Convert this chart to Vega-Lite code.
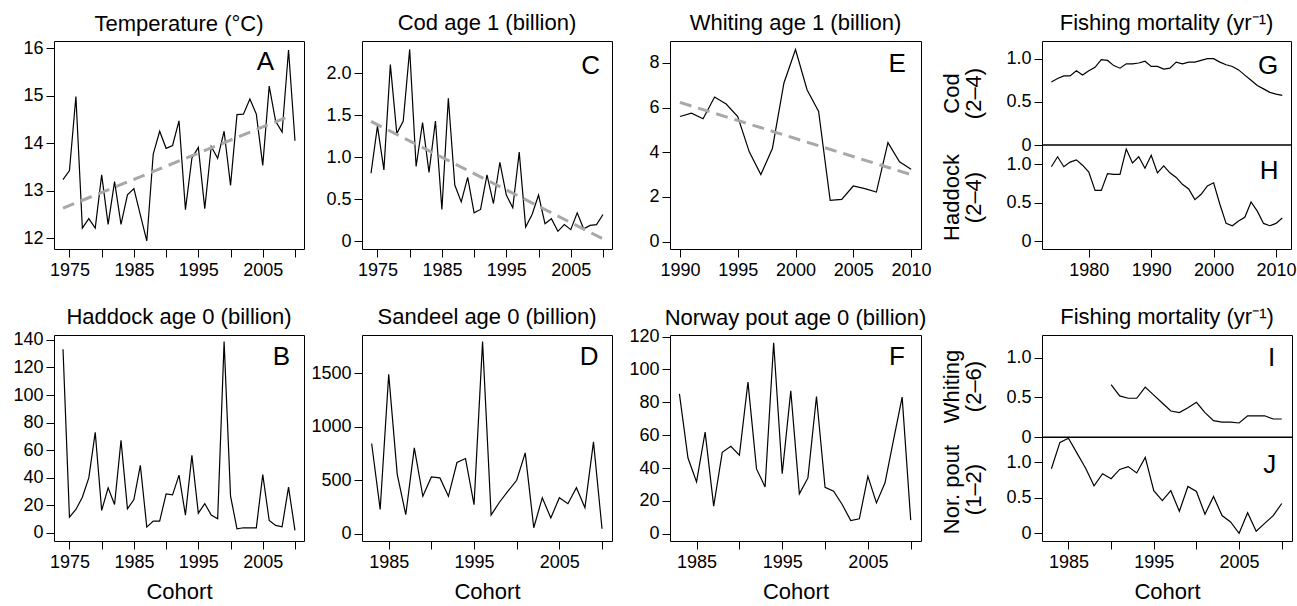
{
"$schema": "https://vega.github.io/schema/vega-lite/v6.json",
"autosize": {"type": "pad"},
"padding": {"left": 12, "top": 11, "right": 2, "bottom": 2},
"background": "white",
"datasets": {
"temp": [{"year":1974,"v":13.23},{"year":1975,"v":13.42},{"year":1976,"v":14.98},{"year":1977,"v":12.21},{"year":1978,"v":12.41},{"year":1979,"v":12.21},{"year":1980,"v":13.33},{"year":1981,"v":12.29},{"year":1982,"v":13.19},{"year":1983,"v":12.29},{"year":1984,"v":12.91},{"year":1985,"v":13.04},{"year":1986,"v":12.49},{"year":1987,"v":11.94},{"year":1988,"v":13.77},{"year":1989,"v":14.25},{"year":1990,"v":13.89},{"year":1991,"v":13.95},{"year":1992,"v":14.47},{"year":1993,"v":12.6},{"year":1994,"v":13.68},{"year":1995,"v":13.91},{"year":1996,"v":12.62},{"year":1997,"v":13.93},{"year":1998,"v":13.68},{"year":1999,"v":14.25},{"year":2000,"v":13.11},{"year":2001,"v":14.6},{"year":2002,"v":14.61},{"year":2003,"v":14.93},{"year":2004,"v":14.61},{"year":2005,"v":13.53},{"year":2006,"v":15.2},{"year":2007,"v":14.46},{"year":2008,"v":14.23},{"year":2009,"v":15.96},{"year":2010,"v":14.05}],
"tempTrend": [{"year":1974,"v":12.63},{"year":2009,"v":14.56}],
"cod": [{"year":1974,"v":0.81},{"year":1975,"v":1.37},{"year":1976,"v":0.85},{"year":1977,"v":2.10},{"year":1978,"v":1.28},{"year":1979,"v":1.43},{"year":1980,"v":2.28},{"year":1981,"v":0.89},{"year":1982,"v":1.41},{"year":1983,"v":0.82},{"year":1984,"v":1.43},{"year":1985,"v":0.38},{"year":1986,"v":1.70},{"year":1987,"v":0.67},{"year":1988,"v":0.47},{"year":1989,"v":0.76},{"year":1990,"v":0.34},{"year":1991,"v":0.38},{"year":1992,"v":0.79},{"year":1993,"v":0.45},{"year":1994,"v":0.94},{"year":1995,"v":0.55},{"year":1996,"v":0.40},{"year":1997,"v":1.06},{"year":1998,"v":0.17},{"year":1999,"v":0.32},{"year":2000,"v":0.55},{"year":2001,"v":0.21},{"year":2002,"v":0.27},{"year":2003,"v":0.12},{"year":2004,"v":0.20},{"year":2005,"v":0.14},{"year":2006,"v":0.34},{"year":2007,"v":0.15},{"year":2008,"v":0.19},{"year":2009,"v":0.20},{"year":2010,"v":0.32}],
"codTrend": [{"year":1974,"v":1.425},{"year":2010,"v":0.03}],
"whiting": [{"year":1990,"v":5.60},{"year":1991,"v":5.75},{"year":1992,"v":5.50},{"year":1993,"v":6.47},{"year":1994,"v":6.16},{"year":1995,"v":5.60},{"year":1996,"v":4.02},{"year":1997,"v":3.0},{"year":1998,"v":4.17},{"year":1999,"v":7.10},{"year":2000,"v":8.60},{"year":2001,"v":6.80},{"year":2002,"v":5.83},{"year":2003,"v":1.85},{"year":2004,"v":1.89},{"year":2005,"v":2.49},{"year":2006,"v":2.37},{"year":2007,"v":2.22},{"year":2008,"v":4.43},{"year":2009,"v":3.57},{"year":2010,"v":3.24}],
"whitingTrend": [{"year":1990,"v":6.23},{"year":2010,"v":3.0}],
"codF": [{"year":1974,"v":0.73},{"year":1975,"v":0.77},{"year":1976,"v":0.80},{"year":1977,"v":0.80},{"year":1978,"v":0.86},{"year":1979,"v":0.81},{"year":1980,"v":0.86},{"year":1981,"v":0.90},{"year":1982,"v":0.99},{"year":1983,"v":0.98},{"year":1984,"v":0.92},{"year":1985,"v":0.89},{"year":1986,"v":0.94},{"year":1987,"v":0.94},{"year":1988,"v":0.95},{"year":1989,"v":0.97},{"year":1990,"v":0.91},{"year":1991,"v":0.91},{"year":1992,"v":0.88},{"year":1993,"v":0.89},{"year":1994,"v":0.96},{"year":1995,"v":0.94},{"year":1996,"v":0.96},{"year":1997,"v":0.96},{"year":1998,"v":0.98},{"year":1999,"v":1.0},{"year":2000,"v":1.0},{"year":2001,"v":0.96},{"year":2002,"v":0.93},{"year":2003,"v":0.91},{"year":2004,"v":0.87},{"year":2005,"v":0.81},{"year":2006,"v":0.75},{"year":2007,"v":0.69},{"year":2008,"v":0.65},{"year":2009,"v":0.61},{"year":2010,"v":0.59},{"year":2011,"v":0.575}],
"hadF": [{"year":1974,"v":0.97},{"year":1975,"v":1.10},{"year":1976,"v":0.97},{"year":1977,"v":1.03},{"year":1978,"v":1.06},{"year":1979,"v":0.99},{"year":1980,"v":0.90},{"year":1981,"v":0.66},{"year":1982,"v":0.66},{"year":1983,"v":0.88},{"year":1984,"v":0.87},{"year":1985,"v":0.87},{"year":1986,"v":1.20},{"year":1987,"v":1.02},{"year":1988,"v":1.10},{"year":1989,"v":0.95},{"year":1990,"v":1.12},{"year":1991,"v":0.89},{"year":1992,"v":0.98},{"year":1993,"v":0.89},{"year":1994,"v":0.83},{"year":1995,"v":0.74},{"year":1996,"v":0.68},{"year":1997,"v":0.54},{"year":1998,"v":0.61},{"year":1999,"v":0.72},{"year":2000,"v":0.76},{"year":2001,"v":0.48},{"year":2002,"v":0.23},{"year":2003,"v":0.20},{"year":2004,"v":0.26},{"year":2005,"v":0.31},{"year":2006,"v":0.51},{"year":2007,"v":0.39},{"year":2008,"v":0.23},{"year":2009,"v":0.20},{"year":2010,"v":0.23},{"year":2011,"v":0.30}],
"haddock0": [{"year":1974,"v":133.2},{"year":1975,"v":11.3},{"year":1976,"v":16.9},{"year":1977,"v":25.8},{"year":1978,"v":39.8},{"year":1979,"v":72.9},{"year":1980,"v":16.2},{"year":1981,"v":32.6},{"year":1982,"v":20.5},{"year":1983,"v":67.1},{"year":1984,"v":17.4},{"year":1985,"v":24.1},{"year":1986,"v":49.0},{"year":1987,"v":4.1},{"year":1988,"v":8.4},{"year":1989,"v":8.4},{"year":1990,"v":28.2},{"year":1991,"v":27.5},{"year":1992,"v":41.8},{"year":1993,"v":12.8},{"year":1994,"v":56.2},{"year":1995,"v":14.2},{"year":1996,"v":21.2},{"year":1997,"v":12.8},{"year":1998,"v":10.1},{"year":1999,"v":138.8},{"year":2000,"v":26.6},{"year":2001,"v":2.9},{"year":2002,"v":3.6},{"year":2003,"v":3.6},{"year":2004,"v":3.6},{"year":2005,"v":42.2},{"year":2006,"v":8.9},{"year":2007,"v":5.3},{"year":2008,"v":4.3},{"year":2009,"v":33.1},{"year":2010,"v":1.7}],
"sandeel": [{"year":1983,"v":844},{"year":1984,"v":228},{"year":1985,"v":1491},{"year":1986,"v":556},{"year":1987,"v":178},{"year":1988,"v":803},{"year":1989,"v":350},{"year":1990,"v":531},{"year":1991,"v":522},{"year":1992,"v":350},{"year":1993,"v":666},{"year":1994,"v":703},{"year":1995,"v":272},{"year":1996,"v":1797},{"year":1997,"v":175},{"year":1998,"v":297},{"year":1999,"v":400},{"year":2000,"v":500},{"year":2001,"v":756},{"year":2002,"v":56},{"year":2003,"v":337},{"year":2004,"v":147},{"year":2005,"v":337},{"year":2006,"v":281},{"year":2007,"v":431},{"year":2008,"v":244},{"year":2009,"v":859},{"year":2010,"v":47}],
"pout": [{"year":1983,"v":85.2},{"year":1984,"v":46.1},{"year":1985,"v":31.6},{"year":1986,"v":61.9},{"year":1987,"v":16.8},{"year":1988,"v":49.6},{"year":1989,"v":53.2},{"year":1990,"v":47.8},{"year":1991,"v":92.3},{"year":1992,"v":39.5},{"year":1993,"v":28.5},{"year":1994,"v":116.3},{"year":1995,"v":36.6},{"year":1996,"v":87.0},{"year":1997,"v":24.3},{"year":1998,"v":34.0},{"year":1999,"v":83.6},{"year":2000,"v":28.3},{"year":2001,"v":25.9},{"year":2002,"v":17.8},{"year":2003,"v":8.1},{"year":2004,"v":9.1},{"year":2005,"v":35.0},{"year":2006,"v":18.8},{"year":2007,"v":31.0},{"year":2008,"v":57.3},{"year":2009,"v":83.2},{"year":2010,"v":8.3}],
"whitF": [{"year":1990,"v":0.66},{"year":1991,"v":0.52},{"year":1992,"v":0.49},{"year":1993,"v":0.49},{"year":1994,"v":0.63},{"year":1995,"v":0.53},{"year":1996,"v":0.43},{"year":1997,"v":0.33},{"year":1998,"v":0.31},{"year":1999,"v":0.37},{"year":2000,"v":0.44},{"year":2001,"v":0.31},{"year":2002,"v":0.21},{"year":2003,"v":0.19},{"year":2004,"v":0.19},{"year":2005,"v":0.18},{"year":2006,"v":0.27},{"year":2007,"v":0.27},{"year":2008,"v":0.27},{"year":2009,"v":0.23},{"year":2010,"v":0.23}],
"poutF": [{"year":1983,"v":0.91},{"year":1984,"v":1.28},{"year":1985,"v":1.34},{"year":1986,"v":1.13},{"year":1987,"v":0.92},{"year":1988,"v":0.67},{"year":1989,"v":0.84},{"year":1990,"v":0.77},{"year":1991,"v":0.90},{"year":1992,"v":0.94},{"year":1993,"v":0.85},{"year":1994,"v":1.07},{"year":1995,"v":0.60},{"year":1996,"v":0.46},{"year":1997,"v":0.60},{"year":1998,"v":0.31},{"year":1999,"v":0.66},{"year":2000,"v":0.59},{"year":2001,"v":0.27},{"year":2002,"v":0.52},{"year":2003,"v":0.25},{"year":2004,"v":0.16},{"year":2005,"v":0.0},{"year":2006,"v":0.29},{"year":2007,"v":0.03},{"year":2008,"v":0.14},{"year":2009,"v":0.25},{"year":2010,"v":0.42}]
},
"config": {
 "font": "Liberation Sans",
 "view": {"stroke": "black", "strokeWidth": 1},
 "axis": {"domain": false, "grid": false, "tickColor": "black", "tickSize": 8, "tickWidth": 1, "labelFont": "Liberation Sans", "labelFontSize": 18, "labelColor": "black", "labelPadding": 3, "titleFont": "Liberation Sans", "titleFontSize": 22, "titleFontWeight": "normal", "titleColor": "black", "labelOverlap": false, "labelFlush": false},
 "axisX": {"labelPadding": 4, "titlePadding": 10},
 "axisY": {"titlePadding": 20, "titleLineHeight": 22},
 "title": {"font": "Liberation Sans", "fontSize": 22, "fontWeight": "normal", "color": "black", "offset": 6},
 "line": {"color": "black", "strokeWidth": 1.2}
},
"columns": 5,
"spacing": {"row": 86, "column": 58},
"bounds": "flush",
"concat": [
   {"width": 250, "height": 208, "title": {"text": "Temperature (°C)", "offset": 3.5},
    "layer": [
     {"data": {"name": "temp"}, "mark": {"type": "line"},
      "encoding": {
       "x": {"field": "year", "type": "quantitative", "scale": {"domain": [1972.6, 2011.4], "nice": false, "zero": false}, "axis": {"title": null, "values": [1975,1980,1985,1990,1995,2000,2005,2010], "tickCount": 50, "format": "d", "labelOverlap": false, "labelExpr": "(datum.value - 1975) % 10 == 0 ? datum.label : ''"}},
       "y": {"field": "v", "type": "quantitative", "scale": {"domain": [11.77, 16.15], "nice": false, "zero": false}, "axis": {"title": null, "values": [12,13,14,15,16], "tickCount": 50, "format": "d", "labelOverlap": false}}}},
     {"data": {"name": "tempTrend"}, "mark": {"type": "line", "color": "#a8a8a8", "strokeWidth": 3, "strokeDash": [12, 7]},
      "encoding": {"x": {"field": "year", "type": "quantitative"}, "y": {"field": "v", "type": "quantitative"}}},
     {"data": {"values": [{"label": "A"}]}, "mark": {"type": "text", "fontSize": 26, "font": "Liberation Sans", "color": "black", "baseline": "middle", "align": "center"},
      "encoding": {"x": {"datum": 2005.4, "type": "quantitative"}, "y": {"datum": 15.7, "type": "quantitative"}, "text": {"field": "label"}}}
    ]},
   {"width": 250, "height": 208, "title": "Cod age 1 (billion)",
    "layer": [
     {"data": {"name": "cod"}, "mark": {"type": "line"},
      "encoding": {
       "x": {"field": "year", "type": "quantitative", "scale": {"domain": [1972.6, 2011.4], "nice": false, "zero": false}, "axis": {"title": null, "values": [1975,1980,1985,1990,1995,2000,2005,2010], "tickCount": 50, "format": "d", "labelOverlap": false, "labelExpr": "(datum.value - 1975) % 10 == 0 ? datum.label : ''"}},
       "y": {"field": "v", "type": "quantitative", "scale": {"domain": [-0.09, 2.38], "nice": false, "zero": false}, "axis": {"title": null, "values": [0,0.5,1,1.5,2], "tickCount": 50, "labelOverlap": false, "labelExpr": "datum.value == 0 ? '0' : format(datum.value, '.1f')"}}}},
     {"data": {"name": "codTrend"}, "mark": {"type": "line", "color": "#a8a8a8", "strokeWidth": 3, "strokeDash": [12, 7]},
      "encoding": {"x": {"field": "year", "type": "quantitative"}, "y": {"field": "v", "type": "quantitative"}}},
     {"data": {"values": [{"label": "C"}]}, "mark": {"type": "text", "fontSize": 26, "font": "Liberation Sans", "color": "black", "baseline": "middle", "align": "center"},
      "encoding": {"x": {"datum": 2008.1, "type": "quantitative"}, "y": {"datum": 2.08, "type": "quantitative"}, "text": {"field": "label"}}}
    ]},
   {"width": 251, "height": 208, "title": "Whiting age 1 (billion)",
    "layer": [
     {"data": {"name": "whiting"}, "mark": {"type": "line"},
      "encoding": {
       "x": {"field": "year", "type": "quantitative", "scale": {"domain": [1989.14, 2010.86], "nice": false, "zero": false}, "axis": {"title": null, "values": [1990,1995,2000,2005,2010], "tickCount": 50, "format": "d", "labelOverlap": false}},
       "y": {"field": "v", "type": "quantitative", "scale": {"domain": [-0.33, 8.98], "nice": false, "zero": false}, "axis": {"title": null, "values": [0,2,4,6,8], "tickCount": 50, "format": "d", "labelOverlap": false}}}},
     {"data": {"name": "whitingTrend"}, "mark": {"type": "line", "color": "#a8a8a8", "strokeWidth": 3, "strokeDash": [12, 7]},
      "encoding": {"x": {"field": "year", "type": "quantitative"}, "y": {"field": "v", "type": "quantitative"}}},
     {"data": {"values": [{"label": "E"}]}, "mark": {"type": "text", "fontSize": 26, "font": "Liberation Sans", "color": "black", "baseline": "middle", "align": "center"},
      "encoding": {"x": {"datum": 2008.8, "type": "quantitative"}, "y": {"datum": 7.93, "type": "quantitative"}, "text": {"field": "label"}}}
    ]},
   {"width": 5, "height": 10, "data": {"values": []}, "mark": "point", "view": {"stroke": null}},
   {"width": 249, "height": 208, "title": "Fishing mortality (yr⁻¹)",
    "layer": [
     {"layer": [
       {"data": {"name": "codF"}, "mark": {"type": "line"},
        "encoding": {
         "x": {"field": "year", "type": "quantitative", "scale": {"domain": [1972.5, 2012.4], "nice": false, "zero": false}, "axis": {"title": null, "values": [1980,1990,2000,2010], "tickCount": 50, "format": "d", "labelOverlap": false}},
         "y": {"field": "v", "type": "quantitative", "scale": {"domain": [-1.205, 1.205], "nice": false, "zero": false}, "axis": {"orient": "left", "title": ["Cod", "(2–4)"], "titleY": 52, "values": [0,0.5,1], "tickCount": 50, "labelOverlap": false, "labelExpr": "datum.value == 0 ? '0' : format(datum.value, '.1f')"}}}},
       {"data": {"values": [{"label": "G"}]}, "mark": {"type": "rule", "color": "black", "strokeWidth": 1.5},
        "encoding": {"y": {"datum": 0, "type": "quantitative"}}},
       {"data": {"values": [{"label": "G"}]}, "mark": {"type": "text", "fontSize": 26, "font": "Liberation Sans", "color": "black", "baseline": "middle", "align": "center"},
        "encoding": {"x": {"datum": 2008.75, "type": "quantitative"}, "y": {"datum": 0.915, "type": "quantitative"}, "text": {"field": "label"}}}
     ]},
     {"layer": [
       {"data": {"name": "hadF"}, "mark": {"type": "line"},
        "encoding": {
         "x": {"field": "year", "type": "quantitative", "scale": {"domain": [1972.5, 2012.4], "nice": false, "zero": false}, "axis": {"title": null, "values": [1980,1990,2000,2010], "tickCount": 50, "format": "d", "labelOverlap": false}},
         "y": {"field": "v", "type": "quantitative", "scale": {"domain": [-0.104, 2.611], "nice": false, "zero": false}, "axis": {"orient": "left", "title": ["Haddock", "(2–4)"], "titleY": 156, "values": [0,0.5,1], "tickCount": 50, "labelOverlap": false, "labelExpr": "datum.value == 0 ? '0' : format(datum.value, '.1f')"}}}},
       {"data": {"values": [{"label": "H"}]}, "mark": {"type": "text", "fontSize": 26, "font": "Liberation Sans", "color": "black", "baseline": "middle", "align": "center"},
        "encoding": {"x": {"datum": 2008.9, "type": "quantitative"}, "y": {"datum": 0.91, "type": "quantitative"}, "text": {"field": "label"}}}
     ]}
    ],
    "resolve": {"scale": {"y": "independent"}, "axis": {"y": "independent"}}},
   {"width": 250, "height": 206, "title": {"text": "Haddock age 0 (billion)", "offset": 1.5},
    "layer": [
     {"data": {"name": "haddock0"}, "mark": {"type": "line"},
      "encoding": {
       "x": {"field": "year", "type": "quantitative", "scale": {"domain": [1972.6, 2011.4], "nice": false, "zero": false}, "axis": {"title": "Cohort", "values": [1975,1980,1985,1990,1995,2000,2005,2010], "tickCount": 50, "format": "d", "labelOverlap": false, "labelExpr": "(datum.value - 1975) % 10 == 0 ? datum.label : ''"}},
       "y": {"field": "v", "type": "quantitative", "scale": {"domain": [-6.0, 143.6], "nice": false, "zero": false}, "axis": {"title": null, "values": [0,20,40,60,80,100,120,140], "tickCount": 50, "format": "d", "labelOverlap": false}}}},
     {"data": {"values": [{"label": "B"}]}, "mark": {"type": "text", "fontSize": 26, "font": "Liberation Sans", "color": "black", "baseline": "middle", "align": "center"},
      "encoding": {"x": {"datum": 2007.9, "type": "quantitative"}, "y": {"datum": 127.7, "type": "quantitative"}, "text": {"field": "label"}}}
    ]},
   {"width": 250, "height": 206, "title": "Sandeel age 0 (billion)",
    "layer": [
     {"data": {"name": "sandeel"}, "mark": {"type": "line"},
      "encoding": {
       "x": {"field": "year", "type": "quantitative", "scale": {"domain": [1981.87, 2011.17], "nice": false, "zero": false}, "axis": {"title": "Cohort", "values": [1985,1990,1995,2000,2005,2010], "tickCount": 50, "format": "d", "labelOverlap": false, "labelExpr": "(datum.value - 1985) % 10 == 0 ? datum.label : ''"}},
       "y": {"field": "v", "type": "quantitative", "scale": {"domain": [-68, 1859], "nice": false, "zero": false}, "axis": {"title": null, "values": [0,500,1000,1500], "tickCount": 50, "format": "d", "labelOverlap": false}}}},
     {"data": {"values": [{"label": "D"}]}, "mark": {"type": "text", "fontSize": 26, "font": "Liberation Sans", "color": "black", "baseline": "middle", "align": "center"},
      "encoding": {"x": {"datum": 2008.5, "type": "quantitative"}, "y": {"datum": 1652, "type": "quantitative"}, "text": {"field": "label"}}}
    ]},
   {"width": 251, "height": 206, "title": {"text": "Norway pout age 0 (billion)", "offset": -2},
    "layer": [
     {"data": {"name": "pout"}, "mark": {"type": "line"},
      "encoding": {
       "x": {"field": "year", "type": "quantitative", "scale": {"domain": [1981.9, 2011.2], "nice": false, "zero": false}, "axis": {"title": "Cohort", "values": [1985,1990,1995,2000,2005,2010], "tickCount": 50, "format": "d", "labelOverlap": false, "labelExpr": "(datum.value - 1985) % 10 == 0 ? datum.label : ''"}},
       "y": {"field": "v", "type": "quantitative", "scale": {"domain": [-4.4, 121], "nice": false, "zero": false}, "axis": {"title": null, "values": [0,20,40,60,80,100,120], "tickCount": 50, "format": "d", "labelOverlap": false}}}},
     {"data": {"values": [{"label": "F"}]}, "mark": {"type": "text", "fontSize": 26, "font": "Liberation Sans", "color": "black", "baseline": "middle", "align": "center"},
      "encoding": {"x": {"datum": 2008.4, "type": "quantitative"}, "y": {"datum": 107.9, "type": "quantitative"}, "text": {"field": "label"}}}
    ]},
   {"width": 5, "height": 10, "data": {"values": []}, "mark": "point", "view": {"stroke": null}},
   {"width": 250, "height": 206, "title": "Fishing mortality (yr⁻¹)",
    "layer": [
     {"layer": [
       {"data": {"name": "whitF"}, "mark": {"type": "line"},
        "encoding": {
         "x": {"field": "year", "type": "quantitative", "scale": {"domain": [1981.9, 2011.2], "nice": false, "zero": false}, "axis": {"title": "Cohort", "values": [1985,1990,1995,2000,2005,2010], "tickCount": 50, "format": "d", "labelOverlap": false, "labelExpr": "(datum.value - 1985) % 10 == 0 ? datum.label : ''"}},
         "y": {"field": "v", "type": "quantitative", "scale": {"domain": [-1.301, 1.284], "nice": false, "zero": false}, "axis": {"orient": "left", "title": ["Whiting", "(2–6)"], "titleY": 51, "values": [0,0.5,1], "tickCount": 50, "labelOverlap": false, "labelExpr": "datum.value == 0 ? '0' : format(datum.value, '.1f')"}}}},
       {"data": {"values": [{"label": "I"}]}, "mark": {"type": "rule", "color": "black", "strokeWidth": 1.5},
        "encoding": {"y": {"datum": 0, "type": "quantitative"}}},
       {"data": {"values": [{"label": "I"}]}, "mark": {"type": "text", "fontSize": 26, "font": "Liberation Sans", "color": "black", "baseline": "middle", "align": "center"},
        "encoding": {"x": {"datum": 2008.8, "type": "quantitative"}, "y": {"datum": 1.0, "type": "quantitative"}, "text": {"field": "label"}}}
     ]},
     {"layer": [
       {"data": {"name": "poutF"}, "mark": {"type": "line"},
        "encoding": {
         "x": {"field": "year", "type": "quantitative", "scale": {"domain": [1981.9, 2011.2], "nice": false, "zero": false}, "axis": {"title": "Cohort", "values": [1985,1990,1995,2000,2005,2010], "tickCount": 50, "format": "d", "labelOverlap": false, "labelExpr": "(datum.value - 1985) % 10 == 0 ? datum.label : ''"}},
         "y": {"field": "v", "type": "quantitative", "scale": {"domain": [-0.108, 2.793], "nice": false, "zero": false}, "axis": {"orient": "left", "title": ["Nor. pout", "(1–2)"], "titleY": 154, "values": [0,0.5,1], "tickCount": 50, "labelOverlap": false, "labelExpr": "datum.value == 0 ? '0' : format(datum.value, '.1f')"}}}},
       {"data": {"values": [{"label": "J"}]}, "mark": {"type": "text", "fontSize": 26, "font": "Liberation Sans", "color": "black", "baseline": "middle", "align": "center"},
        "encoding": {"x": {"datum": 2008.6, "type": "quantitative"}, "y": {"datum": 0.96, "type": "quantitative"}, "text": {"field": "label"}}}
     ]}
    ],
    "resolve": {"scale": {"y": "independent"}, "axis": {"y": "independent"}}}
]
}
